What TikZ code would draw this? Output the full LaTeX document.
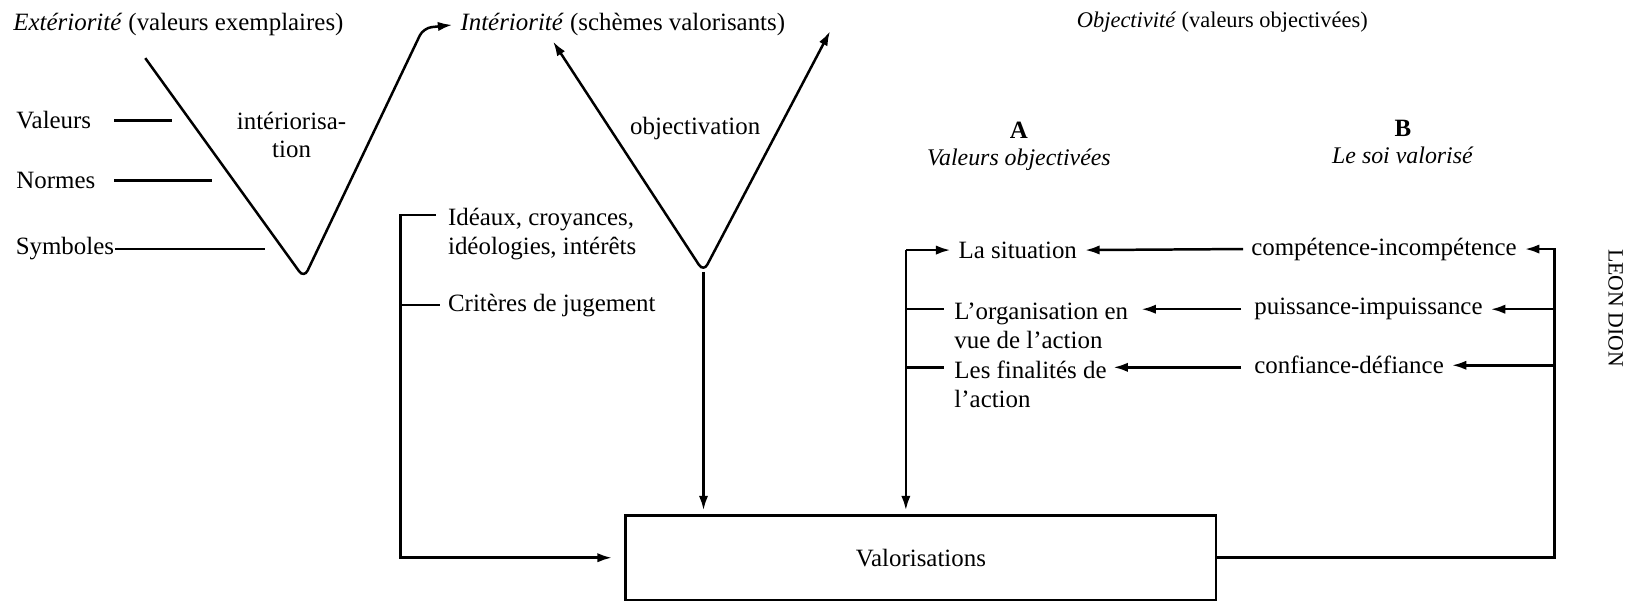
\documentclass[tikz,border=0pt]{standalone}
\usepackage{fontspec}
\setmainfont{Liberation Serif}
\usetikzlibrary{positioning,arrows.meta}

\begin{document}
\begin{tikzpicture}[x=0.5pt,y=-0.5pt,line width=1.2pt,
    >={Latex[length=7pt,width=4.5pt]},
    font=\fontsize{12}{13.8}\selectfont]
    \useasboundingbox (0,0) rectangle (1568,580);

    % titres
    \node (ext) at (172,24) {\textit{Extériorité} (valeurs exemplaires)};
    \node (int) [anchor=west] at (436,24) {\textit{Intériorité} (schèmes valorisants)};
    \node (obj) [font=\fontsize{10.8}{12}\selectfont] at (1178,21) {\textit{Objectivité} (valeurs objectivées)};

    % gauche
    \node (val) [anchor=west] at (8,116) {Valeurs};
    \node (nor) [anchor=west] at (8,174) {Normes};
    \node (sym) [anchor=west, inner xsep=0pt] at (14,240) {Symboles};
    \draw (110,116) -- (166,116);
    \draw (110,174) -- (204,174);
    \draw (sym.east) -- (255,240);

    \node (inter) [align=center] at (281,130) {intériorisa-\\tion};
    \coordinate (v1a) at (140,56);
    \coordinate (v1b) at (293,268);
    \coordinate (v1c) at (408,27);
    \draw[->, rounded corners=4] (v1a) -- (v1b) -- (v1c) -- (int.west);

    \node (objv) at (670,124) {objectivation};
    \coordinate (v2a) at (533,40);
    \coordinate (v2b) at (678,262);
    \coordinate (v2c) at (800,30);
    \draw[<->, rounded corners=4] (v2a) -- (v2b) -- (v2c);

    \node (box) [draw, minimum width=284.5pt, minimum height=40.5pt] at (887.5,537.5) {Valorisations};
    \draw[->, shorten >=2pt] (v2b) -- (v2b |- box.north);

    % crochet gauche
    \node (ide) [anchor=north west, align=left] at (424,193) {Idéaux, croyances,\\idéologies, intérêts};
    \node (cri) [anchor=west] at (424,294) {Critères de jugement};
    \coordinate (lb) at (386,207);
    \draw[->, shorten >=6pt] (420,207) -- (lb) |- (box.west);
    \draw (386,294) -- (cri.west);

    % A et B
    \node (a) at (982,126) {\textbf{A}};
    \node (av) [below=-3pt of a, font=\fontsize{11.5}{13}\selectfont] {\textit{Valeurs objectivées}};
    \node (b) at (1352,124) {\textbf{B}};
    \node (bv) [below=-3pt of b, font=\fontsize{11.5}{13}\selectfont] {\textit{Le soi valorisé}};

    \node (sit) [anchor=west] at (916,241) {La situation};
    \node (org) [anchor=north west, align=left] at (912,284) {L’organisation en\\vue de l’action};
    \node (fin) [anchor=north west, align=left] at (912,340) {Les finalités de\\l’action};

    \node (cmp) [anchor=west] at (1198,240) {compétence-incompétence};
    \node (pui) [anchor=west] at (1201,298) {puissance-impuissance};
    \node (cnf) [anchor=west] at (1201,352) {confiance-défiance};

    % crochet droit
    \coordinate (rb) at (873,241);
    \draw[->] (rb) -- (sit.west);
    \draw[->, shorten >=2pt] (rb) -- (rb |- box.north);
    \draw (873,298) -- (910,298);
    \draw (873,354) -- (910,354);

    \draw[->] (cmp.west) -- (sit.east);
    \draw[->] (1196,298) -- (1100,298);
    \draw[->] (1196,354) -- (1073,354);

    \coordinate (rt) at (1498,240);
    \draw[->] (box.east) -| (rt) -- (cmp.east);
    \draw[->] (rt |- pui.east) -- (pui.east);
    \draw[->] (1498,352) -- (cnf.east);

    \node (auteur) [rotate=-90, font=\fontsize{10.5}{12}\selectfont] at (1557,297) {LEON DION};
\end{tikzpicture}
\end{document}
